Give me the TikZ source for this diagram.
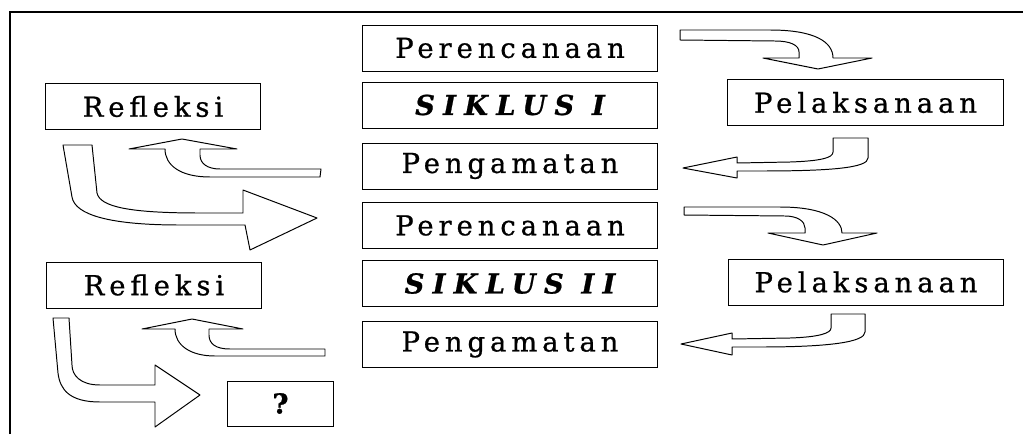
\documentclass[tikz,border=0pt]{standalone}
\usepackage{fontspec}
\newfontfamily\boxfont[LetterSpace=18, FakeBold=0.8]{DejaVu Serif}
\begin{document}
\begin{tikzpicture}[x=0.025cm,y=-0.025cm]
        \useasboundingbox (0,0) rectangle (1023,434);
        \draw[line width=1.5pt] (10,434) -- (10,12) -- (1023,12);

        \begin{scope}[every node/.style={draw, line width=.7pt, inner sep=0pt,
            minimum height=1.15cm, font=\boxfont\fontsize{19.5}{21}\selectfont}]
          \node[minimum width=7.35cm] (1)  at (510,48)    {Perencanaan};
          \node[minimum width=7.35cm] (2)  at (510,105)   {\bfseries\itshape\addfontfeature{LetterSpace=30}SIKLUS I};
          \node[minimum width=7.35cm] (3)  at (510,166)   {Pengamatan};
          \node[minimum width=7.35cm] (4)  at (510,225.5) {Perencanaan};
          \node[minimum width=7.35cm] (5)  at (510,283.5) {\bfseries\itshape\addfontfeature{LetterSpace=30}SIKLUS II};
          \node[minimum width=7.35cm] (6)  at (510,344.5) {Pengamatan};
          \node[minimum width=6.875cm] (7) at (865.5,102.5) {Pelaksanaan};
          \node[minimum width=6.875cm] (8) at (866,282)   {Pelaksanaan};
          \node[minimum width=5.35cm] (9)  at (153,106.5) {Refleksi};
          \node[minimum width=5.35cm] (10) at (154,285)   {Refleksi};
          \node[minimum width=2.625cm, minimum height=1.125cm] (11) at (280.5,403.5) {\bfseries ?};
        \end{scope}

        \begin{scope}[every path/.style={draw, line width=.7pt, line join=round, fill=white}]
          \path (680,30) -- (770,30) .. controls (815,30) and (833,42) .. (833,58)
            -- (872,58) -- (818,69) -- (763,58) -- (799,58) -- (799,52)
            .. controls (799,45) and (790,41) .. (775,41) -- (680,40) -- cycle;
          \path (684,207) -- (780,207) .. controls (825,207) and (842,220) .. (842,233)
            -- (877,233) -- (823,245) -- (768,233) -- (805,233) -- (805,228)
            .. controls (805,221) and (797,216) .. (785,216) -- (684,215) -- cycle;
          \path (833,138) -- (868,138) -- (868,158) .. controls (868,168) and (830,171) .. (760,171)
            -- (737,171) -- (737,178) -- (683,168) -- (737,157) -- (737,163) -- (790,162)
            .. controls (820,161) and (833,158) .. (833,152) -- cycle;
          \path (831,314) -- (865,314) -- (865,332) .. controls (865,342) and (830,347) .. (760,347)
            -- (732,347) -- (732,355) -- (681,344) -- (732,333) -- (732,339) -- (790,338)
            .. controls (820,337) and (831,333) .. (831,328) -- cycle;
          \path (321,169) -- (320,177) -- (210,177) .. controls (180,177) and (165,165) .. (165,149)
            -- (129,149) -- (182,139) -- (237,149) -- (200,149) -- (200,155)
            .. controls (200,164) and (208,169) .. (220,169) -- cycle;
          \path (325,349) -- (325,356) -- (215,356) .. controls (190,356) and (175,345) .. (175,329)
            -- (142,329) -- (192,319) -- (243,329) -- (209,329) -- (209,335)
            .. controls (209,344) and (216,349) .. (230,349) -- cycle;
          \path (63,145) -- (92,145) -- (97,193) .. controls (100,207) and (130,213) .. (200,213)
            -- (243,213) -- (243,190) -- (317,218) -- (250,250) -- (245,225) -- (180,225)
            .. controls (110,225) and (75,215) .. (72,197) -- cycle;
          \path (53,318) -- (69,318) -- (72,365) .. controls (72,375) and (80,385) .. (100,385)
            -- (155,385) -- (155,365) -- (200,395) -- (155,427) -- (155,402) -- (100,402)
            .. controls (70,402) and (60,390) .. (58,373) -- cycle;
        \end{scope}

      \end{tikzpicture}
\end{document}
